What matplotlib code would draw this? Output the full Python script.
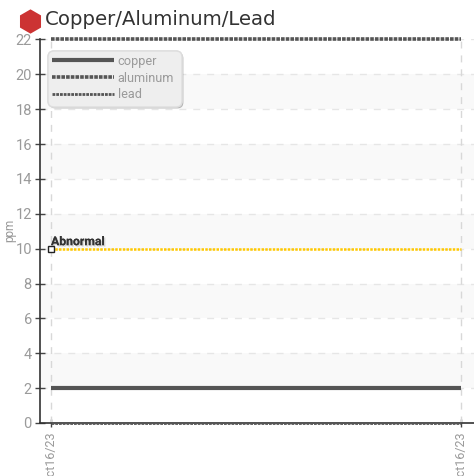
import matplotlib
matplotlib.use('Agg')
import matplotlib.pyplot as plt
from matplotlib.lines import Line2D
from matplotlib.patches import FancyBboxPatch
from matplotlib.transforms import IdentityTransform
import matplotlib.patheffects as pe

# values
dates = ['Oct16/23', 'Oct16/23']
xpos = [0, 1]
copper = [2, 2]
aluminum = [22, 22]
lead = [0, 0]
abnormal = [10, 10]
yticks = list(range(0, 24, 2))
bands = [(2, 4), (6, 8), (10, 12), (14, 16), (18, 20)]

W, H = 474, 476
narrow = ['Roboto', 'DejaVu Sans']
grey = '#9a9a9a'
dark = '#555555'

fig = plt.figure(figsize=(W / 100, H / 100), dpi=100)
ax = fig.add_axes([39.5 / W, (H - 423) / H, (W - 39.5) / W, 383.5 / H])
ax.set_xlim(-11.5 / 410, (W - 51) / 410)
ax.set_ylim(0, 22)

for lo, hi in bands:
    ax.axhspan(lo, hi, color='#f9f9f9', lw=0, zorder=0)

ax.set_axisbelow(True)
ax.grid(axis='y', color='#e6e6e6', ls=(0, (5, 5)), lw=1)
for x in xpos:
    ax.axvline(x, color='#d8d8d8', ls=(0, (5, 5)), lw=1, zorder=1)

ax.plot(xpos, copper, color=dark, lw=3, solid_capstyle='butt', label='copper', clip_on=False, zorder=3)
ax.plot(xpos, aluminum, color=dark, lw=2.6, ls=(0, (1, 0.3)), label='aluminum', clip_on=False, zorder=3)
ax.plot(xpos, lead, color=dark, lw=2, ls=(0, (1, 0.35)), label='lead', clip_on=False, zorder=3)
ax.plot(xpos, abnormal, color='#ffc800', lw=1.8, ls=(0, (1, 0.5)), zorder=3)
ax.plot([0], [10], marker='s', ms=4, mfc='white', mec='#222222', mew=1, ls='none', zorder=4)
ax.text(0, 10.2, 'Abnormal', family=narrow, fontsize=8.8, fontweight='bold', color='#333333',
        path_effects=[pe.withSimplePatchShadow(offset=(1, -1), shadow_rgbFace='#bbbbbb', alpha=0.6), pe.Normal()])

for s in ['top', 'right']:
    ax.spines[s].set_visible(False)
for s in ['left', 'bottom']:
    ax.spines[s].set_color('#333333')
    ax.spines[s].set_linewidth(1.2)

ax.set_yticks(yticks)
ax.set_yticklabels([str(v) for v in yticks], family=narrow, fontsize=10.5, color=grey)
ax.tick_params(axis='y', direction='inout', length=7, width=1, color='#444444', pad=2)
ax.set_xticks(xpos)
ax.set_xticklabels(dates, family=narrow, fontsize=9, color=grey, rotation=90)
ax.tick_params(axis='x', direction='inout', length=6, width=1, color='#444444', pad=3)
ax.set_ylabel('ppm', family=narrow, fontsize=8.5, color=grey, labelpad=0)
ax.yaxis.set_label_coords(-23.5 / (W - 39.5), (423 - 230) / 383.5)

# legend box is drawn apart so it can be wider than its entries
box = FancyBboxPatch((48, H - 107), 134, 56, boxstyle='round,pad=0,rounding_size=6', transform=IdentityTransform(),
                     facecolor='#eeeeee', edgecolor='#dddddd', lw=1, zorder=5,
                     path_effects=[pe.withSimplePatchShadow(offset=(1, -1), shadow_rgbFace='#888888', alpha=0.6), pe.Normal()])
ax.add_patch(box)
leg = ax.legend(loc='upper left', bbox_to_anchor=(8.5 / (W - 39.5), 1 - 11.5 / 383.5), borderaxespad=0,
                prop={'family': narrow, 'size': 9.2}, labelcolor=grey, handlelength=4.9, handletextpad=0.25,
                labelspacing=0.3, borderpad=0.3, frameon=False)
leg.set_zorder(6)

# red hexagon beside the title
fig.add_artist(Line2D([29.5 / W], [1 - 21 / H], marker='h', ms=17.5, color='#cc3333', mew=0,
                      transform=fig.transFigure))
fig.text(45 / W, 1 - 25 / H, 'Copper/Aluminum/Lead', fontsize=14.2, color='#333333', family='DejaVu Sans')

fig.savefig('out.png', dpi=100)
